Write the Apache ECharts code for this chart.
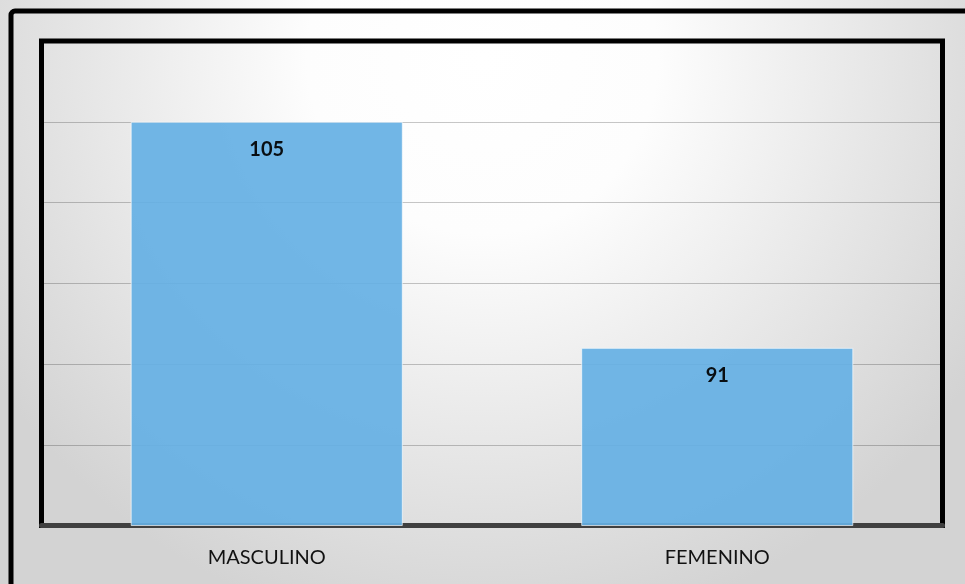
<!DOCTYPE html>
<html>
<head>
    <meta charset="utf-8">
    <title>Sexo</title>
    <script src="https://cdn.jsdelivr.net/npm/echarts@6/dist/echarts.min.js"></script>
    <style type="text/css">
        html, body { margin: 0; padding: 0; width: 100%; height: 100%; overflow: hidden; }
        #main { width: 965px; height: 584px; }
    </style>
</head>
<body>
    <div id="main"></div>
    <script>
        // datos
        var categorias = ['MASCULINO', 'FEMENINO'];
        var valores = [105, 91];
        var ejeMin = 80, ejeMax = 110, ejePaso = 5;

        var myChart = echarts.init(document.getElementById('main'));
        var option = {
            animation: false,
            graphic: [
                {
                    type: 'rect', z: -10, silent: true,
                    shape: { x: 0, y: 0, width: 965, height: 584 },
                    style: {
                        fill: {
                            type: 'radial', x: 0.5, y: 0.1, r: 1.0,
                            colorStops: [
                                { offset: 0, color: '#ffffff' },
                                { offset: 0.3, color: '#fdfdfd' },
                                { offset: 1, color: '#d3d3d3' }
                            ]
                        }
                    }
                },
                {
                    type: 'rect', z: 100, silent: true,
                    shape: { x: 11, y: 11, width: 980, height: 600, r: 4 },
                    style: { fill: 'none', stroke: '#000', lineWidth: 5 }
                }
            ],
            grid: {
                left: 41.5,
                right: 22.5,
                top: 41,
                bottom: 58.5,
                outerBoundsMode: 'none',
                show: true,
                borderColor: '#000',
                borderWidth: 5,
                backgroundColor: 'transparent'
            },
            xAxis: {
                type: 'category',
                data: categorias,
                axisLine: { lineStyle: { color: '#404040', width: 5 } },
                axisTick: { show: false },
                axisLabel: {
                    color: '#111',
                    fontFamily: 'Lato',
                    fontSize: 20,
                    margin: 22
                }
            },
            yAxis: {
                type: 'value',
                min: ejeMin,
                max: ejeMax,
                interval: ejePaso,
                axisLabel: { show: false },
                axisLine: { show: false },
                axisTick: { show: false },
                splitLine: { lineStyle: { color: 'rgba(0,0,0,0.22)', width: 1 } }
            },
            series: [
                {
                    type: 'bar',
                    data: valores,
                    barWidth: '60.4%',
                    itemStyle: {
                        color: '#65b0e4',
                        opacity: 0.92,
                        borderColor: 'rgba(255,255,255,0.7)',
                        borderWidth: 1
                    },
                    label: {
                        show: true,
                        position: 'insideTop',
                        distance: 18,
                        color: '#000',
                        fontFamily: 'Lato',
                        fontWeight: 'bold',
                        fontSize: 20
                    }
                }
            ]
        };
        myChart.setOption(option);
    </script>
</body>
</html>
